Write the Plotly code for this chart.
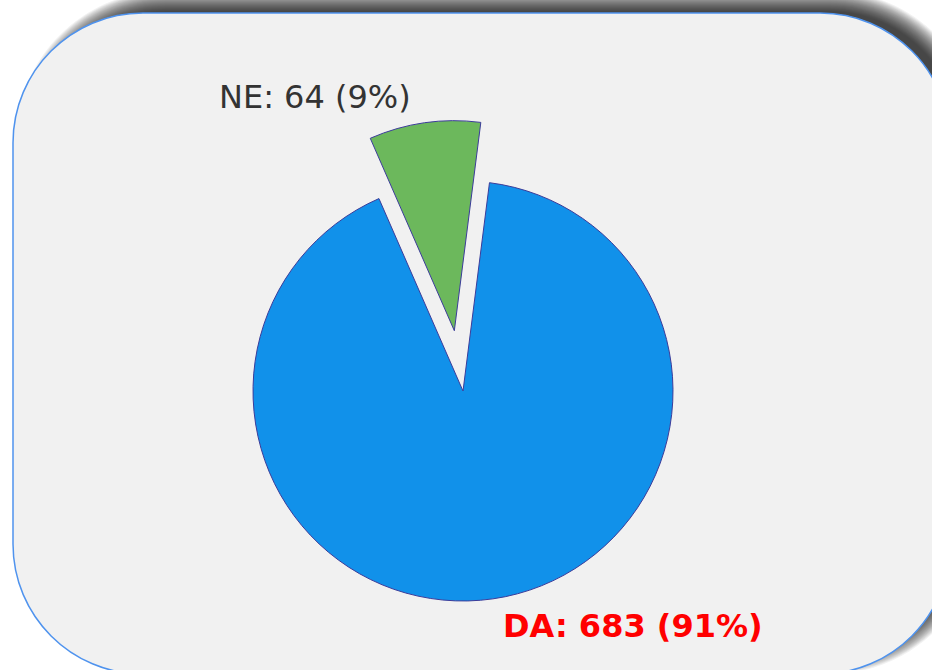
import plotly.graph_objects as go

# ---- data ----
labels = ["NE", "DA"]
values = [64, 683]
colors = ["#6CB85C", "#1191EA"]
pulls = [0.29, 0.0]
label_colors = ["#333333", "#FF0000"]
label_bold = [False, True]

total = sum(values)
pcts = [round(v / total * 100) for v in values]
texts = [f"{l}: {v} ({p}%)" for l, v, p in zip(labels, values, pcts)]

W, H = 932, 670


def P(x, y):
    return x / W, 1 - y / H


def rrect(x0, y0, x1, y1, r):
    k = 0.5523 * r

    def f(x, y):
        a, b = P(x, y)
        return f"{a:.5f},{b:.5f}"
    d = "M" + f(x0 + r, y0)
    d += " L" + f(x1 - r, y0)
    d += " C" + f(x1 - r + k, y0) + " " + f(x1, y0 + r - k) + " " + f(x1, y0 + r)
    d += " L" + f(x1, y1 - r)
    d += " C" + f(x1, y1 - r + k) + " " + f(x1 - r + k, y1) + " " + f(x1 - r, y1)
    d += " L" + f(x0 + r, y1)
    d += " C" + f(x0 + r - k, y1) + " " + f(x0, y1 - r + k) + " " + f(x0, y1 - r)
    d += " L" + f(x0, y0 + r)
    d += " C" + f(x0, y0 + r - k) + " " + f(x0 + r - k, y0) + " " + f(x0 + r, y0)
    d += " Z"
    return d


shapes = []
# soft shadow (offset up-right, blurred by stacked layers)
for i in range(20, -1, -1):
    g = i * 1.0
    shapes.append(dict(type="path", xref="paper", yref="paper", layer="below",
                       path=rrect(36 - g, 11 - g, 960 + g, 654 + g, 130 + g),
                       fillcolor="rgba(0,0,0,0.055)", line=dict(width=0)))
# box
shapes.append(dict(type="path", xref="paper", yref="paper", layer="below",
                   path=rrect(13, 13, 950, 674, 130),
                   fillcolor="#F1F1F1", line=dict(color="#4F93EE", width=1.5)))

# pie placement
r = 210
cx, cy = 463, 391
half = r * (1 + max(pulls))
dx0, dy1 = P(cx - half, cy - half)
dx1, dy0 = P(cx + half, cy + half)

fig = go.Figure(go.Pie(
    labels=labels, values=values, sort=False, direction="clockwise",
    rotation=-23.6, pull=pulls,
    marker=dict(colors=colors, line=dict(color="#3C3C9A", width=1)),
    textinfo="none", hoverinfo="label+value+percent",
    domain=dict(x=[dx0, dx1], y=[dy0, dy1]),
    showlegend=False,
))

label_pos = [(217, 97), (501, 626)]
label_sizes = [32, 32]
annotations = []
for t, c, b, (x, y), s in zip(texts, label_colors, label_bold, label_pos, label_sizes):
    ax, ay = P(x, y)
    annotations.append(dict(
        text=f"<b>{t}</b>" if b else t, x=ax, y=ay, xref="paper", yref="paper",
        xanchor="left", yanchor="middle", showarrow=False,
        font=dict(family="DejaVu Sans", size=s, color=c)))

fig.update_layout(
    width=W, height=H, margin=dict(l=0, r=0, t=0, b=0),
    paper_bgcolor="white", plot_bgcolor="white",
    shapes=shapes, annotations=annotations,
)

fig.write_html("out.html", config={"displayModeBar": False},
               post_script="document.body.style.margin='0';document.body.style.overflow='hidden';")
